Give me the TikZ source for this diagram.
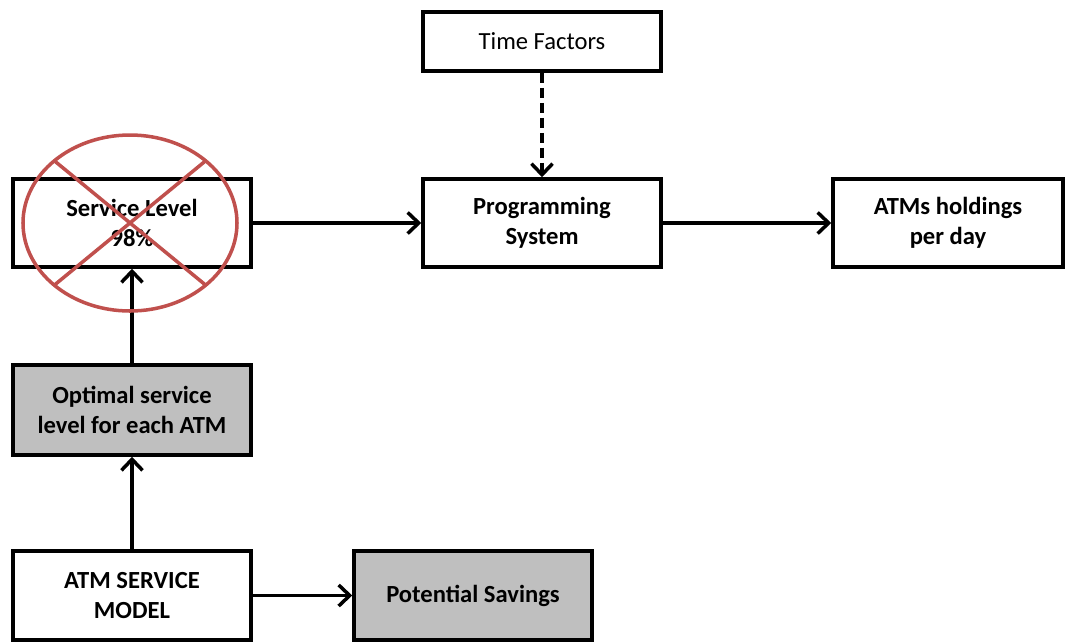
\documentclass[tikz,border=0pt]{standalone}
\usepackage{fontspec}
\setmainfont{Carlito}
\usepackage{xcolor}
\definecolor{boxgray}{RGB}{191,191,191}
\definecolor{crossred}{RGB}{192,80,77}
\usetikzlibrary{arrows.meta}

\tikzset{
  blk/.style={draw, line width=2pt, minimum width=47.6mm, align=center,
    font=\fontsize{14}{17}\selectfont\bfseries},
  grayblk/.style={blk, fill=boxgray},
  flow/.style={line width=2pt, -{Straight Barb[length=2.2mm, width=4.2mm]}}
}

\begin{document}
\begin{tikzpicture}[x=0.2mm, y=-0.2mm]
    \useasboundingbox (0,0) rectangle (1066,641);

    %  top row
    \node[blk, font=\fontsize{14}{17}\selectfont, minimum height=11.8mm] (time) at (542, 41.5) {Time Factors};
    \node[blk, minimum height=17.6mm] (service) at (132, 223) {Service Level\\98\%};
    \node[blk, minimum height=17.6mm] (prog) at (542, 223) {Programming\\System};
    \node[blk, minimum height=17.6mm, minimum width=46mm] (holdings) at (948, 223) {ATMs holdings\\per day};

    %  left column
    \node[grayblk, minimum height=18mm] (optimal) at (132, 410) {Optimal service\\level for each ATM};
    \node[blk, minimum height=17.8mm] (model) at (132, 595.5) {ATM SERVICE\\MODEL};
    \node[grayblk, minimum height=17.8mm] (savings) at (473, 595.5) {Potential Savings};

    %  connectors
    \draw[flow, dash pattern=on 2mm off 1mm] (time) -- (prog);
    \draw[flow] (service) -- (prog);
    \draw[flow] (prog) -- (holdings);
    \draw[flow] (optimal) -- (service);
    \draw[flow] (model) -- (optimal);
    \draw[flow] (model) -- (savings);

    %  crossed out service level
    \draw[crossred, line width=2pt] (130, 223) ellipse [x radius=107, y radius=88];
    \draw[crossred, line width=2pt] (130, 223) ++(225:107 and 88) -- ++(151.4, 124.4);
    \draw[crossred, line width=2pt] (130, 223) ++(315:107 and 88) -- ++(-151.4, 124.4);
  \end{tikzpicture}
\end{document}
